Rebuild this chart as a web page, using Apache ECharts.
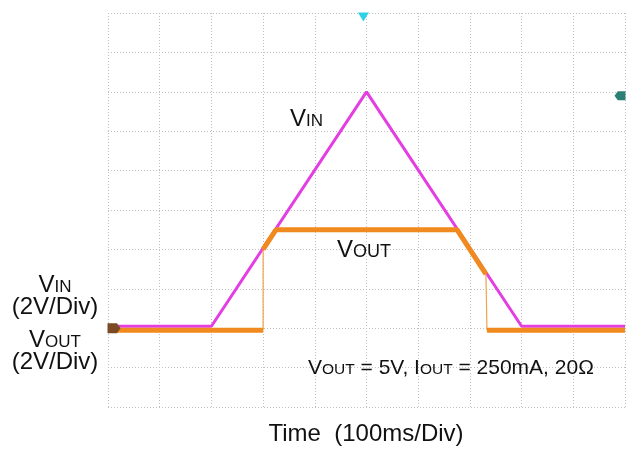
<!DOCTYPE html>
<html>
<head>
<meta charset="utf-8">
<script src="https://cdn.jsdelivr.net/npm/echarts@6/dist/echarts.min.js"></script>
<style>
  html, body { margin: 0; padding: 0; background: #fff; }
  #chart { width: 638px; height: 450px; }
</style>
</head>
<body>
<div id="chart"></div>
<script>
// Time base: 100 ms per division, 10 divisions
const timeTicks = [0, 100, 200, 300, 400, 500, 600, 700, 800, 900, 1000];
// Vertical: 2 V per division, ground two divisions above the bottom edge
const voltTicks = [-4, -2, 0, 2, 4, 6, 8, 10, 12, 14, 16];

// Input ramp (ms, V)
const vinTime  = [0,   200, 500, 800, 1000];
const vinVolts = [0.1, 0.1, 12,  0.1, 0.1];

// Output trace (ms, V); null breaks the trace where it switches
const voutTime  = [0,    300,  300, 300, 325, 675, 731,  731, 733,  1000];
const voutVolts = [-0.1, -0.1, null, 4,  5,   5,   2.75, null, -0.1, -0.1];

// Fast switching edges of the output (drawn thin)
const edgeTime  = [300,  300, 300,  731,  733];
const edgeVolts = [-0.1, 4,   null, 2.75, -0.1];

// Scope screen markers
const triggerTime = 494;
const triggerLevel = 11.8;

const FONT = '"Liberation Sans", Arial, sans-serif';

function pairs(xs, ys) {
  return xs.map((x, i) => [x, ys[i] === null ? '-' : ys[i]]);
}

// V with a small-caps style suffix (V_IN, V_OUT, ...)
function richStyle(big, small) {
  return {
    v: { fontSize: big, fontFamily: FONT, verticalAlign: 'bottom' },
    s: { fontSize: small, fontFamily: FONT, verticalAlign: 'bottom', padding: [0, 0, Math.round((big - small) * 0.2), 0] }
  };
}

const chart = echarts.init(document.getElementById('chart'), null, { renderer: 'canvas' });

const gridLine = { show: true, lineStyle: { color: '#c0c0c0', width: 1, type: [1, 2] } };

chart.setOption({
  animation: false,
  backgroundColor: '#ffffff',
  grid: { left: 108, right: 13, top: 13, bottom: 43, containLabel: false },
  xAxis: {
    type: 'value',
    min: timeTicks[0], max: timeTicks[timeTicks.length - 1], interval: 100,
    axisLine: { show: false }, axisTick: { show: false }, axisLabel: { show: false },
    splitLine: gridLine
  },
  yAxis: {
    type: 'value',
    min: voltTicks[0], max: voltTicks[voltTicks.length - 1], interval: 2,
    axisLine: { show: false }, axisTick: { show: false }, axisLabel: { show: false },
    splitLine: gridLine
  },
  series: [
    {
      name: 'VIN', type: 'line', showSymbol: false, z: 3,
      data: pairs(vinTime, vinVolts),
      lineStyle: { color: '#e43ee2', width: 3 },
      markPoint: {
        silent: true, z: 10,
        label: { show: false },
        data: [
          { coord: [triggerTime, voltTicks[voltTicks.length - 1]], symbol: 'triangle', symbolRotate: 180,
            symbolSize: [11, 9], symbolOffset: [0, 4], itemStyle: { color: '#2fd2e4' } },
          { coord: [timeTicks[timeTicks.length - 1], triggerLevel],
            symbol: 'path://M3,0 L10,0 L10,9 L3,9 L0,4.5 Z', symbolKeepAspect: false,
            symbolSize: [11, 9], symbolOffset: [-5, 0], itemStyle: { color: '#2c7f74' } }
        ]
      }
    },
    {
      name: 'VOUT edges', type: 'line', showSymbol: false, z: 4, connectNulls: false,
      data: pairs(edgeTime, edgeVolts),
      lineStyle: { color: '#f3a04a', width: 1.2 }
    },
    {
      name: 'VOUT', type: 'line', showSymbol: false, z: 5, connectNulls: false,
      data: pairs(voutTime, voutVolts),
      lineStyle: { color: '#f08a1e', width: 5 },
      markPoint: {
        silent: true, z: 10,
        label: { show: false },
        data: [
          { coord: [timeTicks[0], 0],
            symbol: 'path://M0,0 L8,0 L11,4.5 L8,9 L0,9 Z', symbolKeepAspect: false,
            symbolSize: [13, 10], symbolOffset: [6, 0], itemStyle: { color: '#7b4a22' } }
        ]
      }
    }
  ],
  graphic: [
    // trace labels inside the screen
    { type: 'text', left: 290, top: 107, z: 10,
      style: { text: '{v|V}{s|IN}', fill: '#111', rich: richStyle(24, 17) } },
    { type: 'text', left: 337, top: 238, z: 10,
      style: { text: '{v|V}{s|OUT}', fill: '#111', rich: richStyle(24, 18) } },
    // test condition
    { type: 'text', left: 308, top: 358, z: 10,
      style: { text: '{v|V}{s|OUT}{v| = 5V, I}{s|OUT}{v| = 250mA, 20\u03A9}', fill: '#111', rich: richStyle(21, 15.5) } },
    // channel scale labels
    { type: 'text', x: 55, y: 273, z: 10,
      style: { text: '{v|V}{s|IN}', fill: '#111', align: 'center', rich: richStyle(24, 17) } },
    { type: 'text', x: 55, y: 295, z: 10,
      style: { text: '(2V/Div)', fill: '#111', align: 'center', font: '24px ' + FONT } },
    { type: 'text', x: 55, y: 328, z: 10,
      style: { text: '{v|V}{s|OUT}', fill: '#111', align: 'center', rich: richStyle(24, 17) } },
    { type: 'text', x: 55, y: 350, z: 10,
      style: { text: '(2V/Div)', fill: '#111', align: 'center', font: '24px ' + FONT } },
    // time base
    { type: 'text', x: 366, y: 422, z: 10,
      style: { text: 'Time  (100ms/Div)', fill: '#111', align: 'center', font: '24px ' + FONT } }
  ]
});
</script>
</body>
</html>
